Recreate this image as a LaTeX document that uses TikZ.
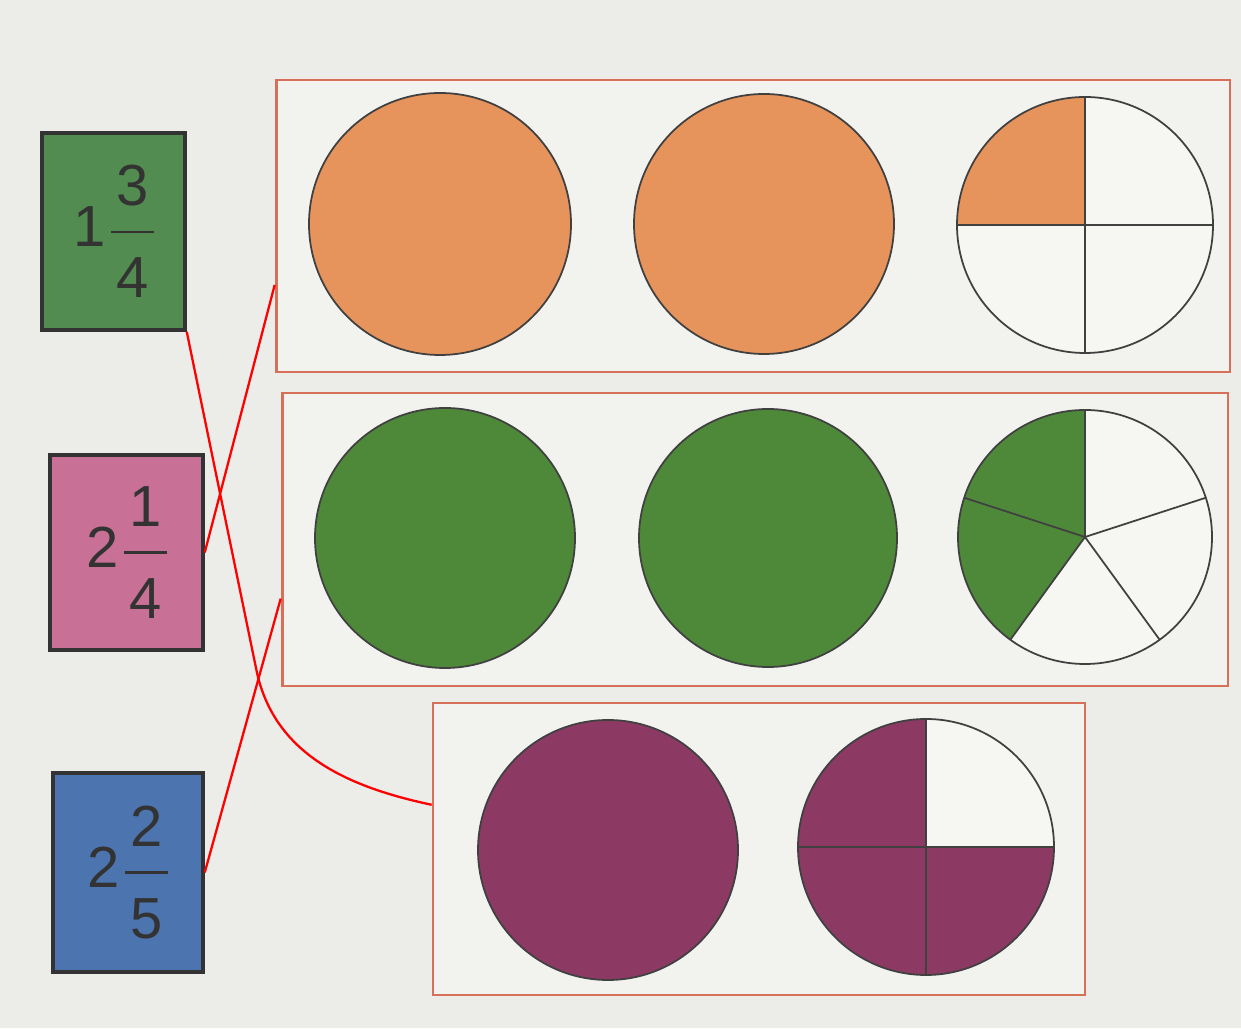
\documentclass[tikz,border=0pt]{standalone}
\usepackage{fontspec}
\setmainfont{Liberation Sans}
\usetikzlibrary{calc}

\definecolor{paper}{RGB}{236,236,233}
\definecolor{blank}{RGB}{246,246,243}
\definecolor{peach}{RGB}{231,148,92}
\definecolor{leaf}{RGB}{78,137,58}
\definecolor{moss}{RGB}{82,140,80}
\definecolor{rose}{RGB}{200,112,150}
\definecolor{sky}{RGB}{76,116,174}
\definecolor{plum}{RGB}{140,58,100}
\definecolor{rim}{RGB}{214,112,88}

% whole part, then a stacked fraction with a bar
\newcommand{\mixnum}[3]{#1\kern3pt\raisebox{-29pt}{\vbox{\offinterlineskip
  \halign{\kern3pt\hfil##\hfil\kern3pt\cr #2\cr
  \noalign{\kern14pt\hrule height 1.3pt\kern14pt}#3\cr}}}}

\begin{document}
\begin{tikzpicture}[
x=0.02cm, y=0.02cm,
card/.style={draw=black!80, line width=2pt, inner sep=0pt, text=black!80,
  font=\fontsize{33}{36}\selectfont},
frame/.style={draw=rim, line width=1.6pt, inner sep=0pt},
disc/.style={draw=black!75, line width=1pt},
cut/.style={black!75, line width=1pt},
link/.style={red, line width=1.3pt}
]

% page
\fill[paper] (0,0) rectangle (1241,1028);
\useasboundingbox (0,0) rectangle (1241,1028);

% number cards
\node[card, fill=moss, minimum width=2.86cm, minimum height=3.94cm] (c1) at (113.5,796.5) {\mixnum{1}{3}{4}};
\node[card, fill=rose, minimum width=3.06cm, minimum height=3.90cm] (c2) at (126.5,475.5) {\mixnum{2}{1}{4}};
\node[card, fill=sky, minimum width=3.00cm, minimum height=3.98cm] (c3) at (128,155.5) {\mixnum{2}{2}{5}};

% frames
\node[frame, fill=blank!60!paper, minimum width=19.08cm, minimum height=5.84cm] (row1) at (753,802) {};
\node[frame, fill=blank!60!paper, minimum width=18.92cm, minimum height=5.86cm] (row2) at (755,488.5) {};
\node[frame, fill=blank!60!paper, minimum width=13.04cm, minimum height=5.84cm] (row3) at (759,179) {};

% row 1: one and three quarters
\fill[peach, disc] (440,804) circle[radius=131];
\fill[peach, disc] (764,804) circle[radius=130];
\fill[blank] (1085,803) circle[radius=128];
\fill[peach] (1085,803) -- ++(90:128) arc[start angle=90, end angle=180, radius=128] -- cycle;
\draw[disc] (1085,803) circle[radius=128];
\draw[cut] (957,803) -- (1213,803);
\draw[cut] (1085,675) -- (1085,931);

% row 2: two and two fifths
\fill[leaf, disc] (445,490) circle[radius=130];
\fill[leaf, disc] (768,490) circle[radius=129];
\fill[blank] (1085,491) circle[radius=127];
\fill[leaf] (1085,491) -- ++(90:127) arc[start angle=90, end angle=234, radius=127] -- cycle;
\draw[disc] (1085,491) circle[radius=127];
\foreach \a in {90,162,234,306,18}
  \draw[cut] (1085,491) -- ++(\a:127);

% row 3: two and one quarter
\fill[plum, disc] (608,178) circle[radius=130];
\fill[blank] (926,181) circle[radius=128];
\fill[plum] (926,181) -- ++(90:128) arc[start angle=90, end angle=360, radius=128] -- cycle;
\draw[disc] (926,181) circle[radius=128];
\draw[cut] (798,181) -- (1054,181);
\draw[cut] (926,53) -- (926,309);

% matching lines
\coordinate (k1) at (256,360);
\draw[link] (c1.south east) -- (k1) to[out=-79, in=168] ($(row3.north west)!0.35!(row3.south west)$);
\draw[link] (c2.east) -- ($(row1.north west)!0.7!(row1.south west)$);
\draw[link] (c3.east) -- ($(row2.north west)!0.7!(row2.south west)$);

\end{tikzpicture}
\end{document}
